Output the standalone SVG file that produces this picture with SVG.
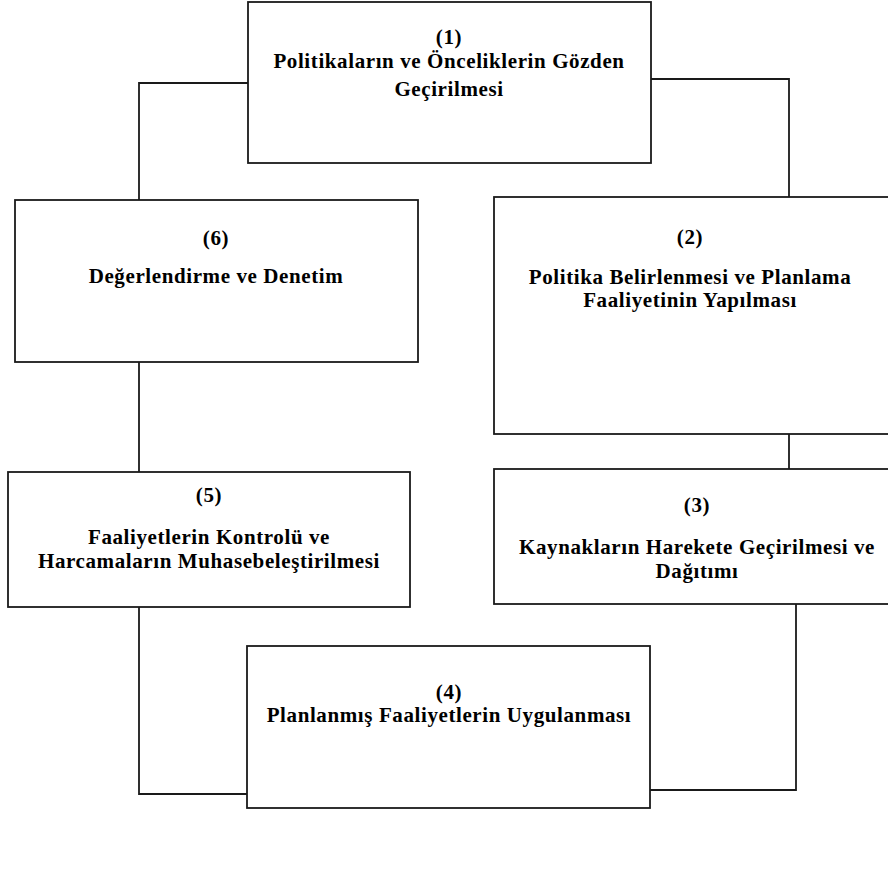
<svg xmlns="http://www.w3.org/2000/svg" width="888" height="870" viewBox="0 0 888 870">
<style>
.box{fill:#fff;stroke:#1a1a1a;stroke-width:1.8}
.ln{fill:none;stroke:#1a1a1a;stroke-width:1.8}
.t{font-family:"Liberation Serif","Times New Roman",serif;font-weight:bold;font-size:21px;letter-spacing:0.6px;fill:#000;text-anchor:middle}
</style>
<rect width="888" height="870" fill="#fff"/>
<g id="connectors">
<polyline class="ln" points="248,83 139,83 139,200"/>
<polyline class="ln" points="651,79 789,79 789,197"/>
<line class="ln" x1="789" y1="434" x2="789" y2="469"/>
<line class="ln" x1="139" y1="362" x2="139" y2="472"/>
<polyline class="ln" points="796,604 796,790 650,790"/>
<polyline class="ln" points="139,607 139,794 247,794"/>
</g>
<g id="node1">
<rect class="box" x="248" y="2" width="403" height="161"/>
<text class="t" x="449" y="44">(1)</text>
<text class="t" x="449" y="68">Politikaların ve Önceliklerin Gözden</text>
<text class="t" x="449" y="96">Geçirilmesi</text>
</g>
<g id="node2">
<rect class="box" x="494" y="197" width="400" height="237"/>
<text class="t" x="690" y="244">(2)</text>
<text class="t" x="690" y="284">Politika Belirlenmesi ve Planlama</text>
<text class="t" x="690" y="307">Faaliyetinin Yapılması</text>
</g>
<g id="node3">
<rect class="box" x="494" y="469" width="400" height="135"/>
<text class="t" x="697" y="512">(3)</text>
<text class="t" x="697" y="554">Kaynakların Harekete Geçirilmesi ve</text>
<text class="t" x="697" y="578">Dağıtımı</text>
</g>
<g id="node4">
<rect class="box" x="247" y="646" width="403" height="162"/>
<text class="t" x="449" y="699">(4)</text>
<text class="t" x="449" y="722">Planlanmış Faaliyetlerin Uygulanması</text>
</g>
<g id="node5">
<rect class="box" x="8" y="472" width="402" height="135"/>
<text class="t" x="209" y="502">(5)</text>
<text class="t" x="209" y="544">Faaliyetlerin Kontrolü ve</text>
<text class="t" x="209" y="568">Harcamaların Muhasebeleştirilmesi</text>
</g>
<g id="node6">
<rect class="box" x="15" y="200" width="403" height="162"/>
<text class="t" x="216" y="245">(6)</text>
<text class="t" x="216" y="283">Değerlendirme ve Denetim</text>
</g>
</svg>
